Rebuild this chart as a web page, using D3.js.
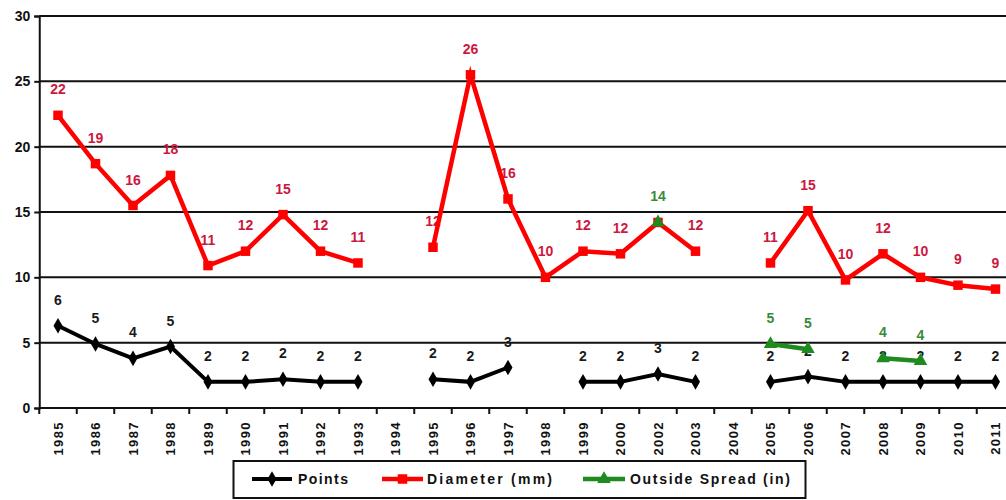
<!DOCTYPE html>
<html>
<head>
<meta charset="utf-8">
<script src="https://cdn.jsdelivr.net/npm/d3@7"></script>
<style>
  html, body { margin: 0; padding: 0; background: #fff; }
  svg { display: block; font-family: Arial, "Liberation Sans", sans-serif; }
</style>
</head>
<body>
<svg id="chart" width="1006" height="500"></svg>
<script>
// Yearly measurements (no entries for 1994 and 2004, no 2001 column)
const years = ["1985","1986","1987","1988","1989","1990","1991","1992","1993","1994",
  "1995","1996","1997","1998","1999","2000","2002","2003","2004","2005","2006",
  "2007","2008","2009","2010","2011"];
const points = [6.3,4.9,3.8,4.7,2.0,2.0,2.2,2.0,2.0,null,2.2,2.0,3.1,null,2.0,2.0,2.6,2.0,null,
  2.0,2.4,2.0,2.0,2.0,2.0,2.0];
const diameter = [22.4,18.7,15.5,17.8,10.9,12.0,14.8,12.0,11.1,null,12.3,25.5,16.0,10.0,12.0,11.8,
  14.2,12.0,null,11.1,15.1,9.8,11.8,10.0,9.4,9.1];
const spread = [null,null,null,null,null,null,null,null,null,null,null,null,null,null,null,null,
  14.2,null,null,4.9,4.5,null,3.8,3.6,null,null];
const yTicks = [0,5,10,15,20,25,30];
const seriesNames = ["Points","Diameter (mm)","Outside Spread (in)"];

const svg = d3.select("#chart");
const plotLeft = 39.25, plotTop = 16, plotBottom = 408, step = 37.5;

const x = d3.scaleBand().domain(years).range([plotLeft, plotLeft + step * years.length]).padding(0);
const cx = d => x(d) + x.bandwidth() / 2;
const y = d3.scaleLinear().domain([0, 30]).range([plotBottom, plotTop]);

// horizontal gridlines
svg.append("g").selectAll("line").data(yTicks.filter(t => t > 0)).join("line")
  .attr("x1", plotLeft).attr("x2", 1006)
  .attr("y1", d => y(d)).attr("y2", d => y(d))
  .attr("stroke", "#111").attr("stroke-width", 2);

// y axis
const yAxis = svg.append("g").attr("transform", `translate(${plotLeft},0)`)
  .call(d3.axisLeft(y).tickValues(yTicks).tickSize(5).tickPadding(4));
yAxis.select(".domain").attr("stroke", "#111").attr("stroke-width", 2);
yAxis.selectAll(".tick line").attr("stroke", "#111").attr("stroke-width", 2);
yAxis.selectAll("text").attr("font-size", 14).attr("font-weight", "bold").attr("fill", "#111")
  .attr("font-family", "Arial, 'Liberation Sans', sans-serif");

// x axis with ticks on category boundaries
const xAxisG = svg.append("g");
xAxisG.append("line").attr("x1", plotLeft).attr("x2", 1006).attr("y1", plotBottom).attr("y2", plotBottom)
  .attr("stroke", "#111").attr("stroke-width", 2);
xAxisG.selectAll("line.tk").data(years).join("line").attr("class", "tk")
  .attr("x1", d => x(d)).attr("x2", d => x(d)).attr("y1", plotBottom).attr("y2", plotBottom + 6)
  .attr("stroke", "#111").attr("stroke-width", 2);
xAxisG.selectAll("text").data(years).join("text")
  .attr("transform", d => `translate(${cx(d)},${plotBottom + 13}) rotate(-90)`)
  .attr("text-anchor", "end").attr("dy", "0.36em")
  .attr("font-size", 13).attr("font-weight", "bold").attr("letter-spacing", 1.4)
  .attr("fill", "#111").text(d => d);

const series = [
  { name: seriesNames[0], values: points, color: "#000", label: "#1a1a1a", width: 4, marker: "diamond", msize: 70 },
  { name: seriesNames[1], values: diameter, color: "#ff0000", label: "#cc1840", width: 4.5, marker: "square", msize: 90 },
  { name: seriesNames[2], values: spread, color: "#1f8a1f", label: "#3a8a3a", width: 4.5, marker: "triangle", msize: 80 }
];
const symbolOf = { diamond: d3.symbolDiamond, square: d3.symbolSquare, triangle: d3.symbolTriangle };

// value labels first, so the lines sit on top of them
series.forEach(s => {
  const pts = years.map((yr, i) => ({ yr, v: s.values[i] })).filter(p => p.v != null);
  svg.append("g").selectAll("text").data(pts).join("text")
    .attr("x", p => cx(p.yr)).attr("y", p => y(p.v) - 26).attr("dy", "0.36em")
    .attr("text-anchor", "middle").attr("font-size", 14).attr("font-weight", "bold")
    .attr("fill", s.label)
    .attr("stroke", s === series[2] ? "#fff" : "none").attr("stroke-width", 2.5)
    .attr("paint-order", "stroke")
    .text(p => Math.round(p.v));
});

series.forEach(s => {
  const data = years.map((yr, i) => ({ yr, v: s.values[i] }));
  const line = d3.line().defined(p => p.v != null).x(p => cx(p.yr)).y(p => y(p.v));
  const g = svg.append("g");
  g.append("path").datum(data).attr("d", line).attr("fill", "none")
    .attr("stroke", s.color).attr("stroke-width", s.width).attr("stroke-linejoin", "miter");
  g.selectAll("path.m").data(data.filter(p => p.v != null)).join("path").attr("class", "m")
    .attr("transform", p => `translate(${cx(p.yr)},${y(p.v)})`)
    .attr("d", d3.symbol().type(symbolOf[s.marker]).size(s.msize)).attr("fill", s.color);
});

// legend
const lg = svg.append("g");
lg.append("rect").attr("x", 233.5).attr("y", 461).attr("width", 572).attr("height", 37)
  .attr("fill", "#fff").attr("stroke", "#111").attr("stroke-width", 2);
const legendItems = [
  { s: series[0], x0: 252, x1: 292, tx: 298, tw: 50 },
  { s: series[1], x0: 382, x1: 423, tx: 427, tw: 125 },
  { s: series[2], x0: 583, x1: 625, tx: 630, tw: 160 }
];
const ly = 479;
legendItems.forEach(it => {
  lg.append("line").attr("x1", it.x0).attr("x2", it.x1).attr("y1", ly).attr("y2", ly)
    .attr("stroke", it.s.color).attr("stroke-width", it.s.width);
  lg.append("path").attr("transform", `translate(${(it.x0 + it.x1) / 2},${ly})`)
    .attr("d", d3.symbol().type(symbolOf[it.s.marker]).size(it.s.msize)).attr("fill", it.s.color);
  lg.append("text").attr("x", it.tx).attr("y", ly).attr("dy", "0.36em")
    .attr("font-size", 14).attr("font-weight", "bold").attr("fill", "#111")
    .attr("textLength", it.tw).attr("lengthAdjust", "spacing").text(it.s.name);
});
</script>
</body>
</html>
